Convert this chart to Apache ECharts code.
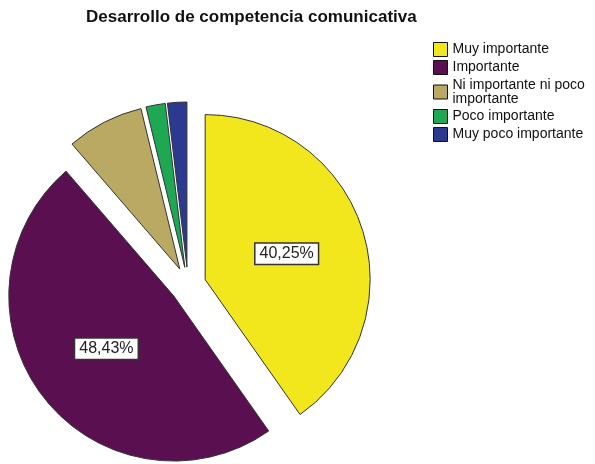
<!DOCTYPE html>
<html>
<head>
<meta charset="utf-8">
<script src="https://cdn.jsdelivr.net/npm/echarts@6/dist/echarts.min.js"></script>
<style>
  html, body { margin: 0; padding: 0; background: #fff; }
  #chart { width: 595px; height: 464px; }
</style>
</head>
<body>
<div id="chart"></div>
<script>
// Response categories and their share of answers (%)
const categories = [
  'Muy importante',
  'Importante',
  'Ni importante ni poco importante',
  'Poco importante',
  'Muy poco importante'
];
const percentages = [40.25, 48.43, 7.55, 1.89, 1.89];
const sliceColors = ['#f2e61c', '#5a1050', '#b9a962', '#1fa853', '#2b3990'];
// Only the two largest slices carry a value label
const showLabel = [true, true, false, false, false];

const FONT = '"Liberation Sans", Arial, sans-serif';

const chart = echarts.init(document.getElementById('chart'), null, { renderer: 'canvas' });

const data = categories.map((name, i) => ({
  name: name,
  value: percentages[i],
  selected: true,
  itemStyle: { color: sliceColors[i] },
  label: { show: showLabel[i] }
}));

chart.setOption({
  animation: false,
  backgroundColor: '#ffffff',
  title: {
    text: 'Desarrollo de competencia comunicativa',
    left: 86,
    top: 9,
    padding: 0,
    textStyle: { fontFamily: FONT, fontSize: 17, fontWeight: 'bold', color: '#111' }
  },
  legend: {
    orient: 'vertical',
    left: 433,
    top: 42,
    padding: 0,
    icon: 'rect',
    itemWidth: 14,
    itemHeight: 14,
    itemGap: 3,
    selectedMode: false,
    itemStyle: { borderColor: '#111', borderWidth: 1 },
    formatter: name => name.replace(' ni poco ', ' ni poco\n'),
    textStyle: { fontFamily: FONT, fontSize: 14, lineHeight: 14, color: '#111' },
    data: categories
  },
  series: [{
    type: 'pie',
    center: [188, 285],
    radius: 165,
    startAngle: 90,
    clockwise: true,
    selectedMode: 'multiple',
    selectedOffset: 18,
    emphasis: { disabled: true },
    select: { itemStyle: { borderColor: '#333', borderWidth: 1 } },
    itemStyle: { borderColor: '#333', borderWidth: 1 },
    label: {
      position: 'inside',
      formatter: p => p.value.toFixed(2).replace('.', ',') + '%',
      fontFamily: FONT,
      fontSize: 16,
      color: '#222',
      backgroundColor: '#ffffff',
      borderColor: '#333',
      borderWidth: 1.5,
      padding: [2, 4]
    },
    labelLine: { show: false },
    data: data
  }]
});
</script>
</body>
</html>
